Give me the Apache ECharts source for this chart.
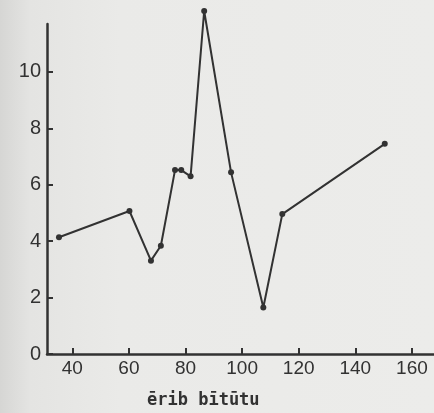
<!DOCTYPE html>
<html>
<head>
<meta charset="utf-8">
<style>
  html, body { margin: 0; padding: 0; }
  body { background: linear-gradient(to right, #d6d6d4 0px, #e4e4e2 30px, #eaeae8 120px, #ececea 100%); }
  #chart { width: 434px; height: 413px; }
</style>
<script src="https://cdn.jsdelivr.net/npm/echarts@6/dist/echarts.min.js"></script>
</head>
<body>
<div id="chart"></div>
<script>
var xValues = [35.3, 60.2, 67.8, 71.3, 76.3, 78.5, 81.8, 86.6, 96.1, 107.5, 114.2, 150.4];
var yValues = [4.14, 5.07, 3.31, 3.84, 6.52, 6.52, 6.3, 12.16, 6.44, 1.65, 4.96, 7.45];
var xTicks = [40, 60, 80, 100, 120, 140, 160];
var yTicks = [0, 2, 4, 6, 8, 10];
var xTitle = 'ērib bītūtu';

var ink = '#323232';
var chart = echarts.init(document.getElementById('chart'), null, { renderer: 'canvas' });

chart.setOption({
  backgroundColor: 'transparent',
  animation: false,
  grid: { left: 47, right: 0, top: 24, bottom: 59, containLabel: false },
  xAxis: {
    type: 'value',
    min: 31.07,
    max: 167.8,
    axisLine: { show: true, lineStyle: { color: ink, width: 2.5 } },
    axisTick: { show: true, inside: true, length: 6, customValues: xTicks, lineStyle: { color: ink, width: 2 } },
    axisLabel: {
      customValues: xTicks,
      color: ink,
      fontSize: 19,
      fontFamily: 'Liberation Sans, Arial, sans-serif',
      margin: 5
    },
    splitLine: { show: false }
  },
  yAxis: {
    type: 'value',
    min: 0,
    max: 11.7,
    axisLine: { show: true, lineStyle: { color: ink, width: 2.5 } },
    axisTick: { show: true, inside: true, length: 6, customValues: yTicks, lineStyle: { color: ink, width: 2 } },
    axisLabel: {
      customValues: yTicks,
      color: ink,
      fontSize: 20,
      fontFamily: 'Liberation Sans, Arial, sans-serif',
      margin: 6
    },
    splitLine: { show: false }
  },
  graphic: [{
    type: 'text',
    left: 147,
    top: 392,
    style: {
      text: xTitle,
      fill: ink,
      font: 'bold 17px "DejaVu Sans Mono", monospace'
    }
  }],
  series: [{
    type: 'line',
    clip: false,
    data: xValues.map(function (x, i) { return [x, yValues[i]]; }),
    symbol: 'circle',
    symbolSize: 6,
    lineStyle: { color: ink, width: 2 },
    itemStyle: { color: ink }
  }]
});
</script>
</body>
</html>
